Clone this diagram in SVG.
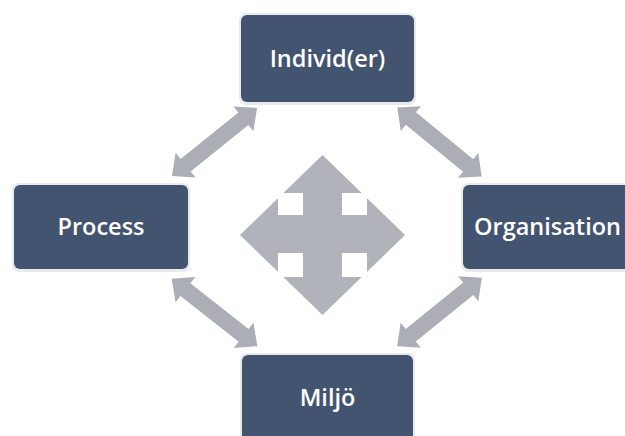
<svg xmlns="http://www.w3.org/2000/svg" xmlns:xlink="http://www.w3.org/1999/xlink" width="625" height="436" viewBox="0 0 625 436">
  <defs>
    <style>
      .box { fill: #435470; }
      .shadow { fill: #e9eaec; }
      .lbl { fill: #ffffff; font-family: "Open Sans", "Liberation Sans", sans-serif; font-weight: 600; font-size: 23.5px; text-anchor: middle; }
      .arrow { fill: #abaeb5; }
    </style>
    <polygon id="dblarrow" class="arrow" points="-54.5,0 -37,-16 -37,-8 37,-8 37,-16 54.5,0 37,16 37,8 -37,8 -37,16"/>
  </defs>
  <rect width="625" height="436" fill="#ffffff"/>

  <g id="connectors">
    <use xlink:href="#dblarrow" transform="translate(214.5,142) rotate(-38.7)"/>
    <use xlink:href="#dblarrow" transform="translate(439.5,142) rotate(39.3)"/>
    <use xlink:href="#dblarrow" transform="translate(214.5,312.5) rotate(38.2)"/>
    <use xlink:href="#dblarrow" transform="translate(439.5,312) rotate(-39)"/>
  </g>

  <g id="center">
    <polygon points="322.5,155 405,235 322.5,315 240,235" fill="#b0b3ba"/>
    <rect x="278" y="193" width="25" height="22" fill="#ffffff"/>
    <rect x="342" y="193" width="25" height="22" fill="#ffffff"/>
    <rect x="278" y="253" width="25" height="24" fill="#ffffff"/>
    <rect x="342" y="253" width="25" height="24" fill="#ffffff"/>
  </g>

  <g id="individer">
    <rect class="shadow" x="239" y="13" width="177" height="92" rx="7"/>
    <rect class="box" x="241" y="15" width="173" height="87" rx="6"/>
    <text class="lbl" x="327.5" y="67">Individ(er)</text>
  </g>

  <g id="process">
    <rect class="shadow" x="12" y="183" width="178" height="89" rx="7"/>
    <rect class="box" x="14" y="185" width="174" height="84" rx="6"/>
    <text class="lbl" x="101" y="235">Process</text>
  </g>

  <g id="organisation">
    <rect class="shadow" x="461" y="183" width="178" height="89" rx="7"/>
    <rect class="box" x="463" y="185" width="174" height="84" rx="6"/>
    <text class="lbl" x="547.5" y="235">Organisation</text>
  </g>

  <g id="miljo">
    <rect class="shadow" x="240" y="353" width="175" height="92" rx="7"/>
    <rect class="box" x="242" y="355" width="171" height="87" rx="6"/>
    <text class="lbl" x="327.5" y="406">Miljö</text>
  </g>
</svg>
